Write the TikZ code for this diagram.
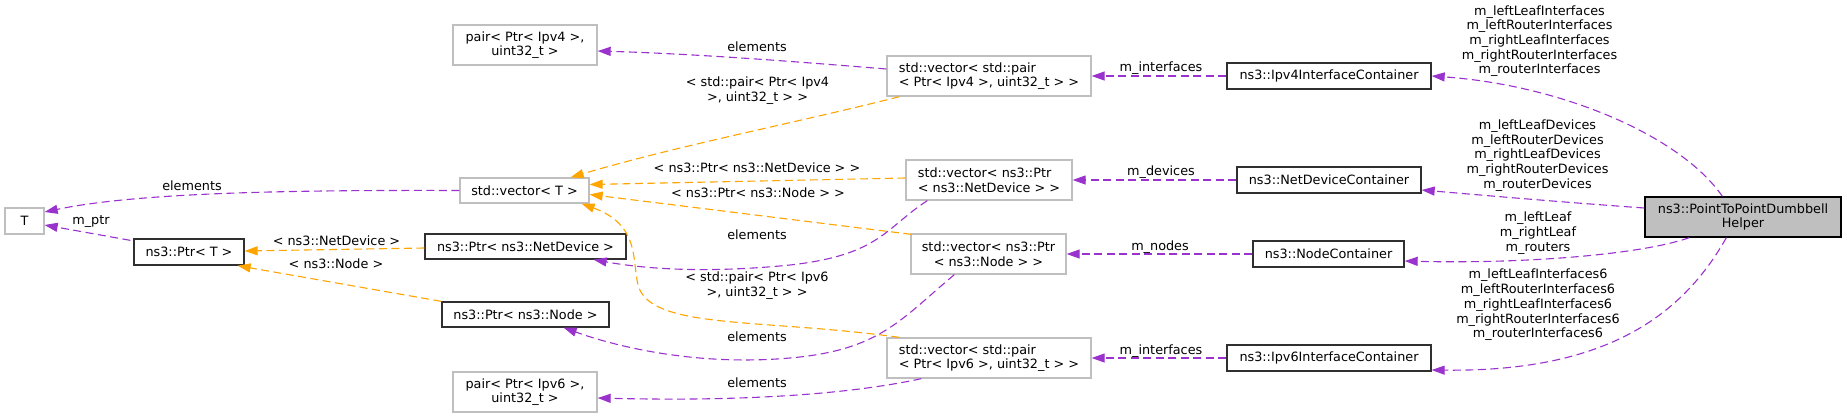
\documentclass[tikz,border=0pt]{standalone}
\usepackage{fontspec}
\setmainfont{DejaVu Sans}
\usetikzlibrary{arrows.meta,calc}
\definecolor{edgepurple}{HTML}{9A32CD}
\definecolor{edgeorange}{HTML}{FFA500}
\definecolor{grayborder}{HTML}{BFBFBF}
\definecolor{blackborder}{HTML}{303030}
\definecolor{mainfill}{HTML}{BFBFBF}
\begin{document}
\begin{tikzpicture}[x=1pt,y=-1pt,
  every node/.style={font=\fontsize{12.8pt}{14.7pt}\selectfont, inner sep=0pt},
  gbox/.style={draw=grayborder, line width=1.3pt, fill=white},
  kbox/.style={draw=blackborder, line width=1.3pt, fill=white},
  mbox/.style={draw=black, line width=1.3pt, fill=mainfill},
  pedge/.style={draw=edgepurple, line width=1.1pt, dash pattern=on 8pt off 4.5pt, -{Triangle[length=13pt,width=9pt]}},
  oedge/.style={draw=edgeorange, line width=1.1pt, dash pattern=on 8pt off 4.5pt, -{Triangle[length=13pt,width=9pt]}},
  lbl/.style={align=center}
]
\useasboundingbox[fill=white] (0,0) rectangle (1847,418);

% nodes
\node[gbox, minimum width=39pt, minimum height=26pt] (T) at (24.5,221) {T};
\node[kbox, minimum width=110pt, minimum height=26pt] (PtrT) at (189,252) {ns3::Ptr< T >};
\node[gbox, minimum width=129pt, minimum height=25pt] (vecT) at (524.5,190.5) {std::vector< T >};
\node[gbox, minimum width=144pt, minimum height=40pt, align=center] (pairV4) at (525,45) {pair< Ptr< Ipv4 >,\\uint32\_t >};
\node[kbox, minimum width=201pt, minimum height=25pt] (PtrND) at (525.5,246.5) {ns3::Ptr< ns3::NetDevice >};
\node[kbox, minimum width=167pt, minimum height=25pt] (PtrNode) at (525.5,314.5) {ns3::Ptr< ns3::Node >};
\node[gbox, minimum width=144pt, minimum height=40pt, align=center] (pairV6) at (525,392) {pair< Ptr< Ipv6 >,\\uint32\_t >};
\node[gbox, minimum width=204pt, minimum height=40pt, align=left] (vecPairV4) at (989,76) {std::vector< std::pair\\< Ptr< Ipv4 >, uint32\_t > >};
\node[gbox, minimum width=166pt, minimum height=40pt, align=left] (vecND) at (989,180) {std::vector< ns3::Ptr\\< ns3::NetDevice > >};
\node[gbox, minimum width=155pt, minimum height=40pt, align=center] (vecNode) at (988.5,254) {std::vector< ns3::Ptr\\< ns3::Node > >};
\node[gbox, minimum width=204pt, minimum height=40pt, align=left] (vecPairV6) at (989,358) {std::vector< std::pair\\< Ptr< Ipv6 >, uint32\_t > >};
\node[kbox, minimum width=204pt, minimum height=26pt] (Ipv4IC) at (1329,76) {ns3::Ipv4InterfaceContainer};
\node[kbox, minimum width=184pt, minimum height=26pt] (NDC) at (1329,180) {ns3::NetDeviceContainer};
\node[kbox, minimum width=151pt, minimum height=26pt] (NC) at (1328.5,254) {ns3::NodeContainer};
\node[kbox, minimum width=204pt, minimum height=26pt] (Ipv6IC) at (1329,358) {ns3::Ipv6InterfaceContainer};
\node[mbox, minimum width=196pt, minimum height=40pt, align=center] (PTP) at (1743,217) {ns3::PointToPointDumbbell\\Helper};

% edges
\draw[pedge] (vecT.west) .. controls (300,190) and (140,192) .. ($(T.east)+(0,-9)$);
\node (l1) at (192,186) {elements};
\draw[pedge] ($(PtrT.north west)+(-3,2)$) -- ($(T.east)+(0,4)$);
\node (l2) at (91,222) {m\_ptr};
\draw[oedge] ($(PtrND.west)+(0,1.5)$) -- ($(PtrT.east)+(0,-1)$);
\node (l3) at (336.5,240.7) {< ns3::NetDevice >};
\draw[oedge] (PtrNode.north west) -- ($(PtrT.south east)+(-7,0)$);
\node (l4) at (336,264) {< ns3::Node >};

\draw[pedge] ($(vecPairV4.west)+(0,-7)$) .. controls (800,62) and (700,54) .. ($(pairV4.east)+(0,6)$);
\node (l5) at (757,46.7) {elements};
\draw[oedge] ($(vecPairV4.south west)+(13,0)$) .. controls (800,122) and (680,145) .. ($(vecT.north east)+(-19,0)$);
\node[lbl] (l6) at (757.5,90.5) {< std::pair< Ptr< Ipv4\\>, uint32\_t > >};
\draw[oedge] ($(vecND.west)+(0,-2)$) -- ($(vecT.east)+(0,-6)$);
\node (l7) at (757,168) {< ns3::Ptr< ns3::NetDevice > >};
\draw[oedge] ($(vecNode.north west)+(1,1)$) -- ($(vecT.east)+(0,4)$);
\node (l8) at (758,193) {< ns3::Ptr< ns3::Node > >};
\draw[oedge] ($(vecPairV6.north west)+(13,0)$) .. controls (760,318) and (650,330) .. (638,285) .. controls (632,260) and (640,225) .. ($(vecT.south east)+(-8,0)$);
\node[lbl] (l9) at (757,285.5) {< std::pair< Ptr< Ipv6\\>, uint32\_t > >};
\draw[pedge] ($(vecND.south west)+(22,0)$) .. controls (885,228) and (880,255) .. (790,265) .. controls (700,274) and (640,268) .. ($(PtrND.south east)+(-33,0)$);
\node (l10) at (757,234.3) {elements};
\draw[pedge] ($(vecNode.south west)+(44,0)$) .. controls (900,320) and (880,350) .. (790,358) .. controls (700,366) and (620,348) .. ($(PtrNode.south east)+(-46,0)$);
\node (l11) at (757,336.7) {elements};
\draw[pedge] ($(vecPairV6.south west)+(35,0)$) .. controls (860,392) and (760,402) .. ($(pairV6.east)+(0,6)$);
\node (l12) at (757,382.3) {elements};

\draw[pedge] (Ipv4IC.west) -- (vecPairV4.east);
\node (l13) at (1161,67.7) {m\_interfaces};
\draw[pedge] (NDC.west) -- (vecND.east);
\node (l14) at (1161,171.7) {m\_devices};
\draw[pedge] (NC.west) -- (vecNode.east);
\node (l15) at (1160,246.7) {m\_nodes};
\draw[pedge] (Ipv6IC.west) -- (vecPairV6.east);
\node (l16) at (1161,350.7) {m\_interfaces};

\draw[pedge] ($(PTP.north west)+(78,0)$) .. controls (1680,135) and (1560,85) .. (Ipv4IC.east);
\node[lbl] (l17) at (1539.5,41.2) {m\_leftLeafInterfaces\\m\_leftRouterInterfaces\\m\_rightLeafInterfaces\\m\_rightRouterInterfaces\\m\_routerInterfaces};
\draw[pedge] ($(PTP.west)+(0,-9)$) .. controls (1560,202) and (1480,195) .. ($(NDC.east)+(0,10)$);
\node[lbl] (l18) at (1537.5,155.5) {m\_leftLeafDevices\\m\_leftRouterDevices\\m\_rightLeafDevices\\m\_rightRouterDevices\\m\_routerDevices};
\draw[pedge] ($(PTP.south west)+(45,0)$) .. controls (1640,255) and (1520,264) .. ($(NC.east)+(0,7)$);
\node[lbl] (l19) at (1538,233) {m\_leftLeaf\\m\_rightLeaf\\m\_routers};
\draw[pedge] ($(PTP.south west)+(82,0)$) .. controls (1680,320) and (1600,372) .. ($(Ipv6IC.east)+(0,12)$);
\node[lbl] (l20) at (1538,305) {m\_leftLeafInterfaces6\\m\_leftRouterInterfaces6\\m\_rightLeafInterfaces6\\m\_rightRouterInterfaces6\\m\_routerInterfaces6};
\end{tikzpicture}
\end{document}
